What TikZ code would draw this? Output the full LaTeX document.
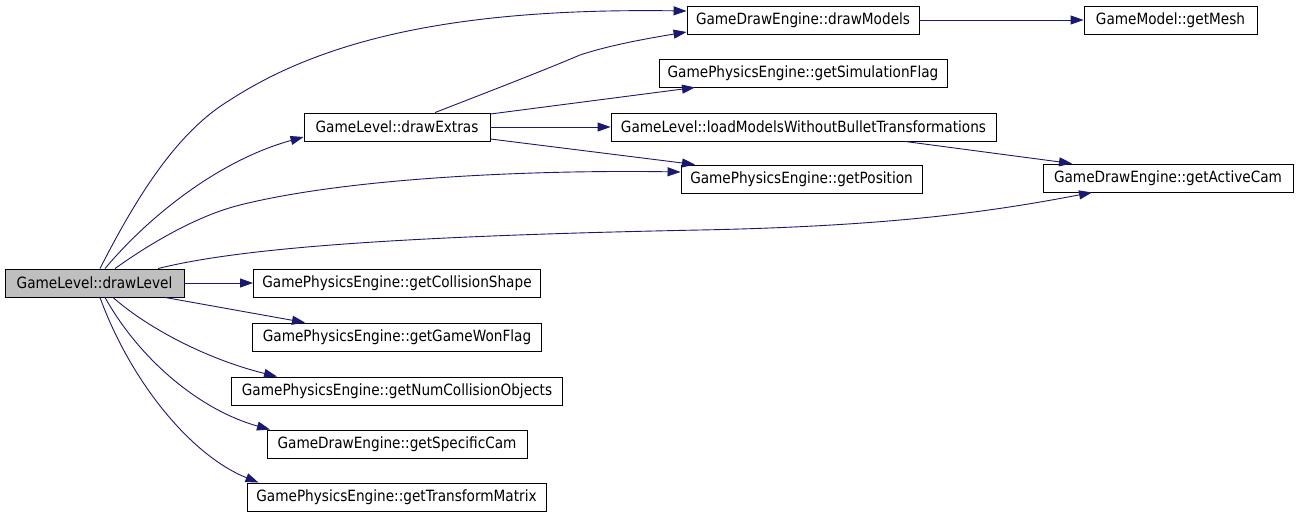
\documentclass[tikz,border=0pt]{standalone}
\usepackage{fontspec}
\setmainfont{DejaVu Sans}[FakeStretch=0.88]
\usetikzlibrary{arrows.meta}
\definecolor{edgeblue}{HTML}{191970}
\definecolor{curgray}{HTML}{BFBFBF}
\begin{document}
\begin{tikzpicture}[x=1pt,y=-1pt,
  fn/.style={draw=black, line width=0.9pt, fill=white, inner sep=0pt,
    minimum height=28pt, font=\fontsize{15.5}{18}\selectfont},
  cur/.style={fn, fill=curgray},
  call/.style={draw=edgeblue, line width=0.9pt,
    -{Triangle[length=13pt,width=9pt]}}]
\useasboundingbox (0,0) rectangle (1299,517);
\fill[white] (0,0) rectangle (1299,517);

% edges first
\begin{scope}[on background layer/.try]
\end{scope}

% nodes
\node[cur, minimum width=179pt] (dl) at (94.5,283) {GameLevel::drawLevel};
\node[fn, minimum width=186pt] (de) at (397,127) {GameLevel::drawExtras};
\node[fn, minimum width=232pt] (dm) at (803,20) {GameDrawEngine::drawModels};
\node[fn, minimum width=173pt] (mesh) at (1170.5,20) {GameModel::getMesh};
\node[fn, minimum width=288pt] (sim) at (803,73) {GamePhysicsEngine::getSimulationFlag};
\node[fn, minimum width=385pt] (load) at (803.5,127) {GameLevel::loadModelsWithoutBulletTransformations};
\node[fn, minimum width=241pt] (pos) at (801.5,179) {GamePhysicsEngine::getPosition};
\node[fn, minimum width=250pt] (cam) at (1168,178) {GameDrawEngine::getActiveCam};
\node[fn, minimum width=287pt] (coll) at (397,283) {GamePhysicsEngine::getCollisionShape};
\node[fn, minimum width=289pt] (won) at (397,337) {GamePhysicsEngine::getGameWonFlag};
\node[fn, minimum width=331pt] (num) at (397,391) {GamePhysicsEngine::getNumCollisionObjects};
\node[fn, minimum width=260pt] (spec) at (397,444) {GameDrawEngine::getSpecificCam};
\node[fn, minimum width=299pt] (tm) at (396.5,497) {GamePhysicsEngine::getTransformMatrix};

% edges from drawLevel
\draw[call] ([xshift=5.5pt]dl.north) .. controls (140,190) and (180,130) .. (230,100)
  .. controls (330,35) and (470,8) .. ([yshift=9pt]dm.west);
\draw[call] ([xshift=10.5pt]dl.north) .. controls (150,215) and (220,160) .. ([yshift=-10pt]de.west);
\draw[call] ([xshift=20.5pt]dl.north) .. controls (155,240) and (200,215) .. (240,205)
  .. controls (360,175) and (560,170) .. ([yshift=7pt]pos.west);
\draw[call] ([xshift=63.5pt]dl.north) .. controls (240,248) and (400,236) .. (700,230)
  .. controls (900,226) and (1000,210) .. ([xshift=-76pt]cam.south);
\draw[call] (dl.east) -- (coll.west);
\draw[call] ([xshift=70.5pt]dl.south) -- ([xshift=-92pt]won.north);
\draw[call] ([xshift=18.5pt]dl.south) .. controls (150,330) and (210,360) .. ([xshift=-120pt]num.north);
\draw[call] ([xshift=10.5pt]dl.south) .. controls (140,360) and (200,410) .. ([xshift=-127pt]spec.north);
\draw[call] ([xshift=5.5pt]dl.south) .. controls (130,380) and (190,455) .. ([xshift=-138pt]tm.north);

% edges from drawExtras
\draw[call] ([xshift=38pt]de.north) .. controls (480,95) and (540,72) .. (580,55)
  .. controls (610,45) and (650,38) .. ([yshift=-12pt]dm.west);
\draw[call] ([yshift=13pt]de.east) -- ([xshift=-108pt]sim.south);
\draw[call] (de.east) -- (load.west);
\draw[call] ([yshift=-12pt]de.east) -- ([xshift=-106.5pt]pos.north);

% other edges
\draw[call] (dm.east) -- (mesh.west);
\draw[call] ([xshift=101.5pt]load.south) -- ([xshift=-96pt]cam.north);
\end{tikzpicture}
\end{document}
